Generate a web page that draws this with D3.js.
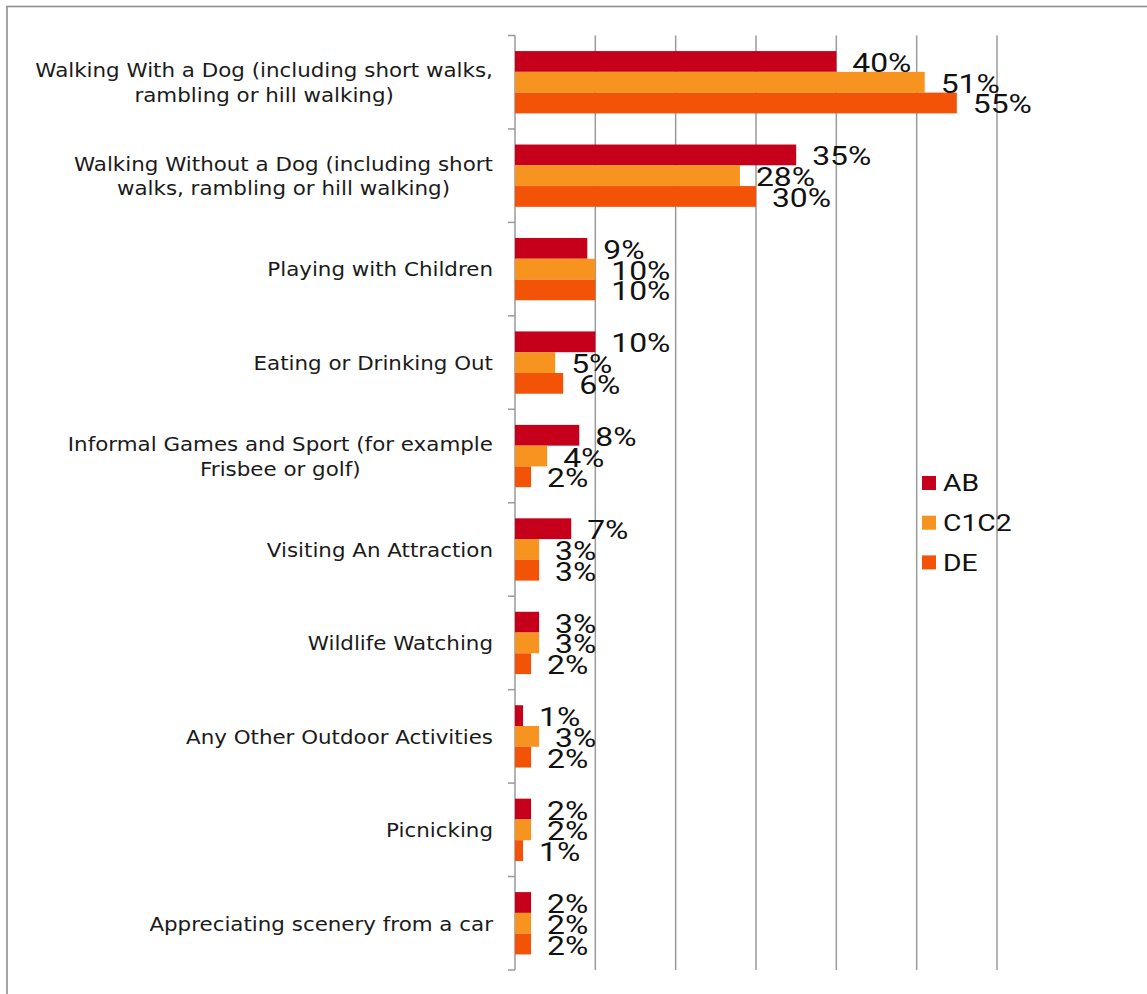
<!DOCTYPE html>
<html>
<head>
<meta charset="utf-8">
<script src="https://cdn.jsdelivr.net/npm/d3@7/dist/d3.min.js"></script>
<style>
  html, body { margin: 0; padding: 0; background: #fff; }
  svg { display: block; }
</style>
</head>
<body>
<svg id="chart" width="1147" height="994"></svg>
<script>
// Activity categories ("\n" marks where a long label wraps)
const categories = [
  "Walking With a Dog (including short walks,\nrambling or hill walking)",
  "Walking Without a Dog (including short\nwalks, rambling or hill walking)",
  "Playing with Children",
  "Eating or Drinking Out",
  "Informal Games and Sport (for example\nFrisbee or golf)",
  "Visiting An Attraction",
  "Wildlife Watching",
  "Any Other Outdoor Activities",
  "Picnicking",
  "Appreciating scenery from a car"
];

// Share of each social grade taking part (%)
const seriesNames = ["AB", "C1C2", "DE"];
const valuesAB   = [40, 35, 9, 10, 8, 7, 3, 1, 2, 2];
const valuesC1C2 = [51, 28, 10, 5, 4, 3, 3, 3, 2, 2];
const valuesDE   = [55, 30, 10, 6, 2, 3, 2, 2, 1, 2];
const seriesColors = ["#c6001b", "#f7931f", "#f25307"];

// Gridline positions (%)
const gridTicks = [10, 20, 30, 40, 50, 60];

const seriesValues = [valuesAB, valuesC1C2, valuesDE];
const rows = categories.map((c, i) => ({
  name: c,
  values: seriesNames.map((s, j) => ({ series: s, value: seriesValues[j][i] }))
}));

const svg = d3.select("#chart");
const plot = { left: 515, right: 997, top: 35.5, bottom: 970 };
const STRETCH_LABEL = 1.2;   // horizontal stretch of value/legend text
const STRETCH_CAT = 1.07;

// outer frame
svg.append("rect")
  .attr("x", 7).attr("y", 6.5)
  .attr("width", 1200).attr("height", 1100)
  .attr("fill", "none").attr("stroke", "#8e8e8e").attr("stroke-width", 1.6);

const x = d3.scaleLinear().domain([0, 60]).range([plot.left, plot.right]);
const y = d3.scaleBand().domain(d3.range(categories.length))
  .range([plot.top, plot.bottom]).paddingInner(1 / 3).paddingOuter(1 / 6);
const ySeries = d3.scaleBand().domain(seriesNames).range([0, y.bandwidth()]);
const color = d3.scaleOrdinal().domain(seriesNames).range(seriesColors);

// vertical gridlines
svg.append("g")
  .selectAll("line").data(gridTicks).join("line")
  .attr("x1", d => x(d)).attr("x2", d => x(d))
  .attr("y1", plot.top).attr("y2", plot.bottom)
  .attr("stroke", "#9a9a9a").attr("stroke-width", 1.5);

// category axis: spine plus boundary ticks
const step = y.step();
const boundaries = d3.range(categories.length + 1).map(i => plot.top + i * step);
const axis = svg.append("g");
axis.append("line")
  .attr("x1", plot.left).attr("x2", plot.left)
  .attr("y1", plot.top).attr("y2", plot.bottom)
  .attr("stroke", "#9a9a9a").attr("stroke-width", 1.5);
axis.selectAll("line.tick").data(boundaries).join("line")
  .attr("class", "tick")
  .attr("x1", plot.left - 7).attr("x2", plot.left)
  .attr("y1", d => d).attr("y2", d => d)
  .attr("stroke", "#9a9a9a").attr("stroke-width", 1.5);

// bars
const groups = svg.append("g").selectAll("g").data(rows).join("g")
  .attr("transform", (d, i) => `translate(0,${y(i)})`);

groups.selectAll("rect").data(d => d.values).join("rect")
  .attr("x", x(0))
  .attr("y", d => ySeries(d.series))
  .attr("width", d => x(d.value) - x(0))
  .attr("height", ySeries.bandwidth())
  .attr("fill", d => color(d.series));

// value labels
groups.selectAll("text").data(d => d.values).join("text")
  .attr("transform", d =>
    `translate(${x(d.value) + 16},${ySeries(d.series) + ySeries.bandwidth() / 2 + 10.5}) scale(${STRETCH_LABEL},1)`)
  .attr("font-family", "Roboto, sans-serif")
  .attr("font-size", 26.5)
  .attr("fill", "#111")
  .text(d => d.value + "%");

// category labels, right-aligned block with centred lines
const catFont = 20, lineGap = 24.5, labelRight = 493;
const catLayer = svg.append("g");
rows.forEach((row, i) => {
  const lines = row.name.split("\n");
  const cy = y(i) + y.bandwidth() / 2;
  const g = catLayer.append("g");
  const texts = lines.map((ln, k) => g.append("text")
    .attr("font-family", "'DejaVu Sans', Verdana, sans-serif")
    .attr("font-size", catFont)
    .attr("fill", "#1a1a1a")
    .attr("text-anchor", "middle")
    .text(ln));
  const maxW = d3.max(texts, t => t.node().getComputedTextLength()) * STRETCH_CAT;
  const cx = labelRight - maxW / 2;
  texts.forEach((t, k) => {
    const base = cy + (k - (lines.length - 1) / 2) * lineGap + 7.3;
    t.attr("transform", `translate(${cx},${base}) scale(${STRETCH_CAT},1)`);
  });
});

// legend
const legend = svg.append("g").selectAll("g").data(seriesNames).join("g")
  .attr("transform", (d, i) => `translate(922,${483 + i * 39.7})`);
legend.append("rect")
  .attr("x", 0).attr("y", -7).attr("width", 14).attr("height", 14)
  .attr("fill", d => color(d));
legend.append("text")
  .attr("transform", `translate(21,8.2) scale(${STRETCH_LABEL + 0.03},1)`)
  .attr("font-family", "Roboto, sans-serif")
  .attr("font-size", 23)
  .attr("fill", "#111")
  .text(d => d);
</script>
</body>
</html>
